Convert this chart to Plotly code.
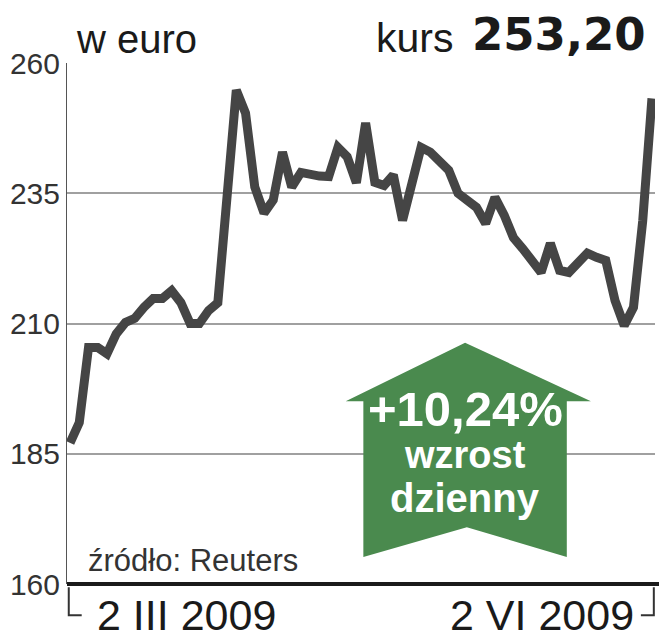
import plotly.graph_objects as go

# notowania od 2 III 2009 do 2 VI 2009 (euro)
kurs = [187.1, 191.0, 205.4, 205.4, 204.2, 208.0, 210.2, 211.0, 213.1, 214.8,
        214.8, 216.3, 214.0, 210.0, 210.0, 212.5, 214.0, 235.0, 254.8, 250.4,
        236.2, 231.2, 233.7, 242.9, 236.2, 239.0, 238.5, 238.3, 238.2, 243.8,
        242.0, 237.0, 248.5, 237.1, 236.5, 238.5, 229.8, 236.8, 243.8, 242.9,
        241.3, 239.4, 235.0, 233.7, 232.3, 229.2, 234.2, 230.8, 226.5, 224.4,
        222.1, 219.8, 225.4, 220.2, 219.8, 221.7, 223.5, 222.7, 222.1, 214.4,
        209.6, 213.1, 229.7, 253.2]
dni = list(range(len(kurs)))
y_ticks = [160, 185, 210, 235, 260]
data_od = "2 III 2009"
data_do = "2 VI 2009"

FONT = "Liberation Sans"

fig = go.Figure()
fig.add_trace(go.Scatter(x=dni, y=kurs, mode='lines',
                         line=dict(color='#454545', width=9),
                         hoverinfo='skip'))

# strzalka "wzrost dzienny"
arrow = "M 0.474 0.351 L 0.677 0.463 L 0.891 0.351 L 0.850 0.351 L 0.850 0.052 " \
        "L 0.680 0.109 L 0.504 0.052 L 0.504 0.351 Z"

shapes = [
    dict(type='path', path=arrow, xref='paper', yref='paper',
         fillcolor='#4a8a4e', line=dict(width=0), layer='above'),
    # dolna os
    dict(type='line', xref='paper', yref='paper', x0=0, x1=1.01, y0=0, y1=0,
         line=dict(color='#1a1a1a', width=4), layer='above'),
    # nawiasy pod osia
    dict(type='path', xref='paper', yref='paper',
         path="M 0.003 -0.006 L 0.003 -0.060 L 0.025 -0.060",
         line=dict(color='#333', width=2)),
    dict(type='path', xref='paper', yref='paper',
         path="M 0.976 -0.060 L 0.998 -0.060 L 0.998 -0.006",
         line=dict(color='#333', width=2)),
]

annotations = [
    dict(text="w euro", x=0.012, xref='paper', y=1.0, yref='paper', showarrow=False,
         xanchor='left', yanchor='bottom', font=dict(size=40, color='#1a1a1a', family=FONT)),
    dict(text="kurs", x=0.66, xref='paper', y=1.0, yref='paper',
         showarrow=False, xanchor='right', yanchor='bottom',
         font=dict(size=41, color='#1a1a1a', family=FONT)),
    dict(text="<b>253,20</b>", x=0.988, xref='paper', y=1.0, yref='paper',
         showarrow=False, xanchor='right', yanchor='bottom',
         font=dict(size=45, color='#1a1a1a', family="DejaVu Sans")),
    dict(text="źródło: Reuters", x=0.033, xref='paper', y=0.008, yref='paper',
         showarrow=False, xanchor='left', yanchor='bottom',
         font=dict(size=31, color='#333', family=FONT)),
    dict(text=data_od, x=0.048, xref='paper', y=-0.01, yref='paper', showarrow=False,
         xanchor='left', yanchor='top', font=dict(size=43, color='#1a1a1a', family=FONT)),
    dict(text=data_do, x=0.968, xref='paper', y=-0.01, yref='paper', showarrow=False,
         xanchor='right', yanchor='top', font=dict(size=43, color='#1a1a1a', family=FONT)),
    dict(text="<b>+10,24%</b>", x=0.677, xref='paper', y=0.335, yref='paper',
         showarrow=False, xanchor='center', yanchor='middle',
         font=dict(size=49, color='white', family=FONT)),
    dict(text="<b>wzrost</b>", x=0.677, xref='paper', y=0.248, yref='paper',
         showarrow=False, xanchor='center', yanchor='middle',
         font=dict(size=38, color='white', family=FONT)),
    dict(text="<b>dzienny</b>", x=0.677, xref='paper', y=0.165, yref='paper',
         showarrow=False, xanchor='center', yanchor='middle',
         font=dict(size=40, color='white', family=FONT)),
]

fig.update_layout(
    width=659, height=640,
    margin=dict(l=67, r=4, t=63, b=56),
    plot_bgcolor='white', paper_bgcolor='white',
    showlegend=False,
    shapes=shapes,
    annotations=annotations,
    xaxis=dict(range=[-0.33, len(kurs) - 1 + 0.33], showgrid=False, zeroline=False,
               showticklabels=False, showline=False),
    yaxis=dict(range=[160, 260], tickvals=y_ticks, showgrid=True, gridcolor='#a0a0a0',
               gridwidth=2, zeroline=False, showline=True, linecolor='#555', linewidth=1,
               ticks='', tickfont=dict(size=30, color='#333', family=FONT)),
)

fig.write_html("out.html", config={'displayModeBar': False},
               post_script="document.body.style.margin='0';document.body.style.overflow='hidden';")
